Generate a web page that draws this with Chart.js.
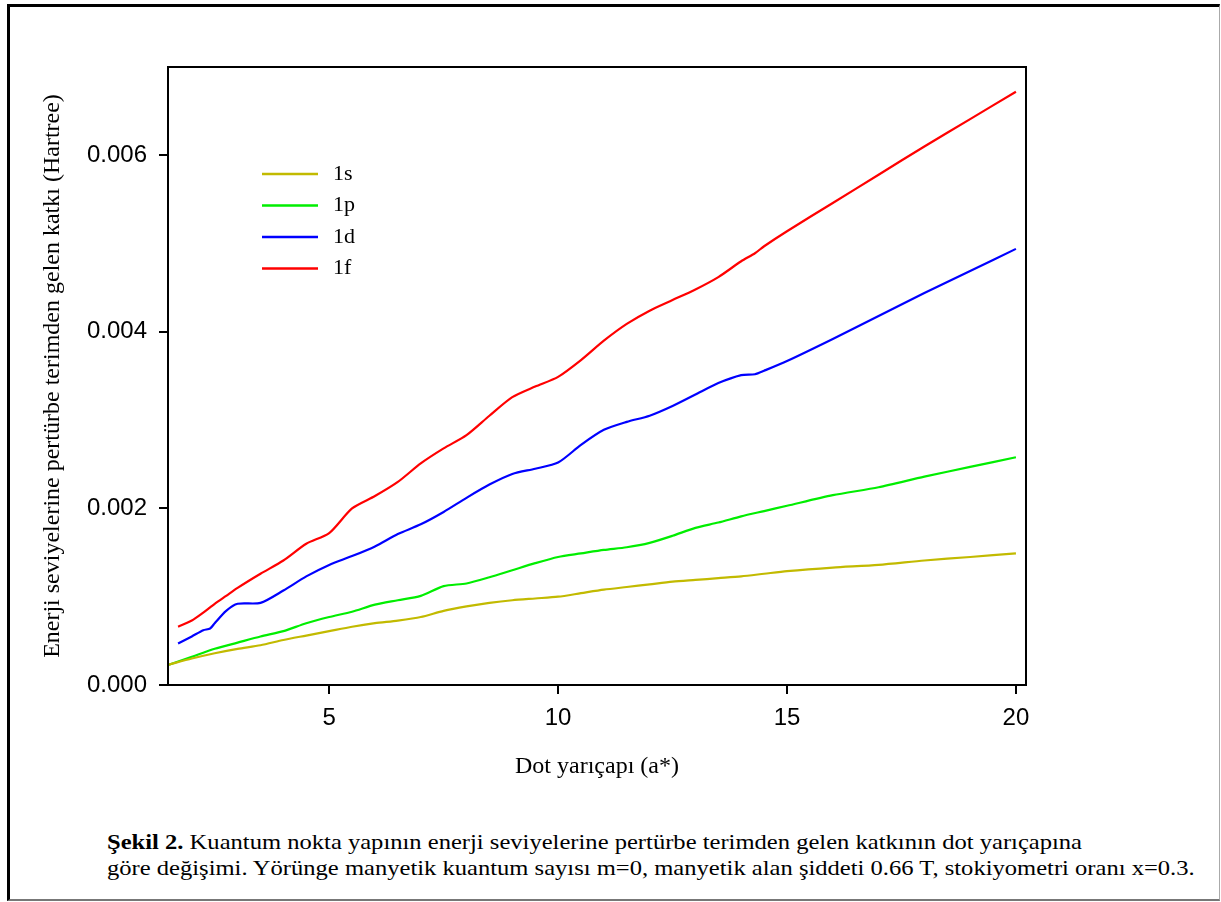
<!DOCTYPE html>
<html>
<head>
<meta charset="utf-8"/>
<script src="https://cdn.jsdelivr.net/npm/chart.js"></script>
<style>
  body { margin: 0; background: #fff; width: 1221px; height: 902px; position: relative; overflow: hidden; }
  #frame { position: absolute; left: 7px; top: 4px; width: 1209px; height: 892px;
           border-top: 3px solid #000; border-left: 3px solid #000;
           border-right: 1px solid #aaa; border-bottom: 2px solid #777; }
  #wrap { position: absolute; left: 0; top: 0; width: 1221px; height: 790px; }
  #caption { position: absolute; left: 107px; top: 829px; font-family: "Liberation Serif", "Times New Roman", serif;
             font-size: 21px; line-height: 26px; color: #000; white-space: nowrap;
             transform: scaleX(1.17); transform-origin: 0 0; }
</style>
</head>
<body>
<div id="frame"></div>
<div id="wrap"><canvas id="myChart" width="1221" height="790"></canvas></div>
<div id="caption"><b>Şekil 2.</b> Kuantum nokta yapının enerji seviyelerine pertürbe terimden gelen katkının dot yarıçapına<br>göre değişimi. Yörünge manyetik kuantum sayısı m=0, manyetik alan şiddeti 0.66 T, stokiyometri oranı x=0.3.</div>

<script>
// dot radius (a*) where 1s / 1p were read
const radiusSP = [1.5, 2, 2.5, 3, 3.5, 4, 4.5, 5, 5.5, 6, 6.5, 7, 7.5, 8, 8.5, 9, 9.5, 10,
                  10.5, 11, 11.5, 12, 12.5, 13, 13.5, 14, 14.5, 15, 16, 17, 18, 19, 20];
// dot radius where 1d / 1f were read (they start a bit later)
const radiusDF = [1.7, 2, 2.25, 2.4, 2.5, 2.75, 3, 3.5, 4, 4.5, 5, 5.5, 6, 6.5, 7, 7.5, 8, 8.5, 9, 9.5, 10,
                  10.5, 11, 11.5, 12, 12.5, 13, 13.5, 14, 14.3, 14.5, 15, 16, 17, 18, 19, 20];

const s1 = [0.00023, 0.00030, 0.00036, 0.00041, 0.00045, 0.00051, 0.00056, 0.00061, 0.00066, 0.00070,
            0.00073, 0.00077, 0.00084, 0.00089, 0.00093, 0.00096, 0.00098, 0.00100, 0.00104, 0.00108,
            0.00111, 0.00114, 0.00117, 0.00119, 0.00121, 0.00123, 0.00126, 0.00129, 0.00133, 0.00136,
            0.00141, 0.00145, 0.00149];
const p1 = [0.00023, 0.00032, 0.00041, 0.00048, 0.00055, 0.00061, 0.00070, 0.00077, 0.00083, 0.00091,
            0.00096, 0.00101, 0.00112, 0.00115, 0.00122, 0.00130, 0.00138, 0.00145, 0.00149, 0.00153,
            0.00156, 0.00161, 0.00169, 0.00178, 0.00184, 0.00191, 0.00197, 0.00203, 0.00215, 0.00224,
            0.00236, 0.00247, 0.00258];
const d1 = [0.00047, 0.00055, 0.00062, 0.00064, 0.00070, 0.00084, 0.00092, 0.00093, 0.00107, 0.00123,
            0.00136, 0.00146, 0.00157, 0.00171, 0.00182, 0.00196, 0.00212, 0.00227, 0.00239, 0.00245,
            0.00252, 0.00272, 0.00289, 0.00298, 0.00305, 0.00316, 0.00329, 0.00342, 0.00351, 0.00352,
            0.00356, 0.00367, 0.00392, 0.00418, 0.00444, 0.00469, 0.00494];
const f1 = [0.00066, 0.00073, 0.00082, 0.00088, 0.00092, 0.00101, 0.00110, 0.00126, 0.00141, 0.00160,
            0.00172, 0.00200, 0.00214, 0.00230, 0.00251, 0.00268, 0.00283, 0.00305, 0.00326, 0.00338,
            0.00349, 0.00368, 0.00390, 0.00409, 0.00424, 0.00436, 0.00448, 0.00462, 0.00480, 0.00489,
            0.00497, 0.00514, 0.00546, 0.00578, 0.00610, 0.00641, 0.00672];

const xTicks = [5, 10, 15, 20];
const yTicks = [0, 0.002, 0.004, 0.006];

function pts(xs, ys) {
  return xs.map((x, i) => ({ x: x, y: ys[i] }));
}

// box around the plot + legend inside it
const boxAndLegend = {
  id: 'boxAndLegend',
  afterDraw(chart) {
    const c = chart.ctx, a = chart.chartArea;
    c.save();
    c.strokeStyle = '#000';
    c.lineWidth = 2;
    c.strokeRect(a.left, a.top, a.right - a.left, a.bottom - a.top);
    c.font = '22px "Liberation Serif", "Times New Roman", serif';
    c.textBaseline = 'middle';
    chart.data.datasets.forEach((ds, i) => {
      const y = a.top + 107 + i * 31.5;
      c.strokeStyle = ds.borderColor;
      c.lineWidth = 2.5;
      c.beginPath();
      c.moveTo(a.left + 94, y);
      c.lineTo(a.left + 150, y);
      c.stroke();
      c.fillStyle = '#000';
      c.fillText(ds.label, a.left + 165, y);
    });
    c.restore();
  }
};

const ctx = document.getElementById('myChart').getContext('2d');
const lineStyle = { borderWidth: 2.2, pointRadius: 0, fill: false, tension: 0.25 };

new Chart(ctx, {
  type: 'line',
  data: {
    datasets: [
      { label: '1s', data: pts(radiusSP, s1), borderColor: '#c2ba00', ...lineStyle },
      { label: '1p', data: pts(radiusSP, p1), borderColor: '#00ee00', ...lineStyle },
      { label: '1d', data: pts(radiusDF, d1), borderColor: '#0000ff', ...lineStyle },
      { label: '1f', data: pts(radiusDF, f1), borderColor: '#ff0000', ...lineStyle }
    ]
  },
  options: {
    responsive: false,
    animation: false,
    layout: { padding: { left: 38, top: 67, right: 195, bottom: 0 } },
    plugins: { legend: { display: false }, tooltip: { enabled: false } },
    scales: {
      x: {
        type: 'linear', min: 1.48, max: 20.22,
        afterBuildTicks: s => { s.ticks = xTicks.map(v => ({ value: v })); },
        afterFit: s => { s.height = 105; },
        grid: { display: true, drawOnChartArea: false, drawTicks: true, tickLength: 9, color: '#000', lineWidth: 2 },
        border: { display: true, color: '#000', width: 2 },
        ticks: { color: '#000', padding: 10, maxRotation: 0, font: { family: '"Liberation Sans", Arial, sans-serif', size: 24 } },
        title: { display: true, text: 'Dot yarıçapı (a*)', color: '#000', padding: { top: 0, bottom: 9 },
                 font: { family: '"Liberation Serif", "Times New Roman", serif', size: 24 } }
      },
      y: {
        type: 'linear', min: 0, max: 0.007,
        afterBuildTicks: s => { s.ticks = yTicks.map(v => ({ value: v })); },
        afterFit: s => { s.width = 130; },
        grid: { display: true, drawOnChartArea: false, drawTicks: true, tickLength: 9, color: '#000', lineWidth: 2 },
        border: { display: true, color: '#000', width: 2 },
        ticks: { color: '#000', padding: 12, callback: v => v.toFixed(3),
                 font: { family: '"Liberation Sans", Arial, sans-serif', size: 24 } },
        title: { display: true, text: 'Enerji seviyelerine pertürbe terimden gelen katkı (Hartree)', color: '#000',
                 padding: { top: 0, bottom: 0 },
                 font: { family: '"Liberation Serif", "Times New Roman", serif', size: 24 } }
      }
    }
  },
  plugins: [boxAndLegend]
});
</script>
</body>
</html>
